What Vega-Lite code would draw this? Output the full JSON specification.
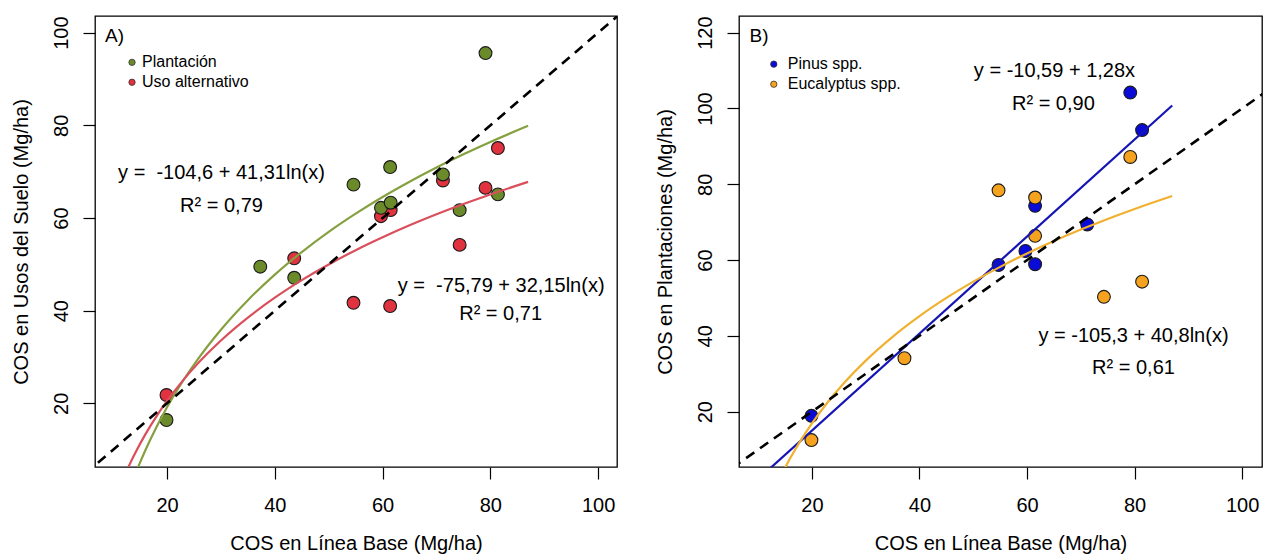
{
  "$schema": "https://vega.github.io/schema/vega-lite/v6.json",
  "padding": {"left": 10, "top": 15, "right": 0, "bottom": 0},
  "spacing": 36,
  "config": {
    "font": "Liberation Sans",
    "view": {"stroke": "black", "strokeWidth": 1.3},
    "axis": {"grid": false, "domain": false, "tickColor": "black", "tickWidth": 1.2, "tickSize": 12,
      "labelFont": "Liberation Sans", "labelFontSize": 20, "labelColor": "black", "labelPadding": 16,
      "titleFont": "Liberation Sans", "titleFontSize": 20, "titleFontWeight": "normal", "titleColor": "black",
      "minExtent": 50, "maxExtent": 50, "labelOverlap": false, "labelFlush": false},
    "axisX": {"titlePadding": 16},
    "axisY": {"labelAngle": -90, "labelAlign": "center", "labelBaseline": "alphabetic", "titlePadding": 14}
  },
  "resolve": {"scale": {"x": "independent", "y": "independent", "fill": "independent", "stroke": "independent"}},
  "datasets": {
    "ptsA": [
      {"x": 19.9, "y": 21.8, "grupo": "Uso alternativo"},
      {"x": 43.6, "y": 51.3, "grupo": "Uso alternativo"},
      {"x": 54.6, "y": 41.7, "grupo": "Uso alternativo"},
      {"x": 59.7, "y": 60.4, "grupo": "Uso alternativo"},
      {"x": 61.5, "y": 61.7, "grupo": "Uso alternativo"},
      {"x": 61.4, "y": 41.0, "grupo": "Uso alternativo"},
      {"x": 71.2, "y": 68.1, "grupo": "Uso alternativo"},
      {"x": 74.3, "y": 54.2, "grupo": "Uso alternativo"},
      {"x": 79.1, "y": 66.5, "grupo": "Uso alternativo"},
      {"x": 81.4, "y": 75.1, "grupo": "Uso alternativo"},
      {"x": 19.9, "y": 16.4, "grupo": "Plantación"},
      {"x": 37.3, "y": 49.5, "grupo": "Plantación"},
      {"x": 43.6, "y": 47.1, "grupo": "Plantación"},
      {"x": 54.6, "y": 67.2, "grupo": "Plantación"},
      {"x": 59.7, "y": 62.2, "grupo": "Plantación"},
      {"x": 61.5, "y": 63.3, "grupo": "Plantación"},
      {"x": 61.4, "y": 71.0, "grupo": "Plantación"},
      {"x": 71.2, "y": 69.4, "grupo": "Plantación"},
      {"x": 74.3, "y": 61.7, "grupo": "Plantación"},
      {"x": 79.1, "y": 95.6, "grupo": "Plantación"},
      {"x": 81.4, "y": 65.1, "grupo": "Plantación"}
    ],
    "curvesA": [
      {"x": 14, "y": 4.42, "grupo": "Plantación"},
      {"x": 15, "y": 7.27, "grupo": "Plantación"},
      {"x": 16, "y": 9.94, "grupo": "Plantación"},
      {"x": 18, "y": 14.80, "grupo": "Plantación"},
      {"x": 20, "y": 19.15, "grupo": "Plantación"},
      {"x": 23, "y": 24.93, "grupo": "Plantación"},
      {"x": 26, "y": 29.99, "grupo": "Plantación"},
      {"x": 30, "y": 35.90, "grupo": "Plantación"},
      {"x": 35, "y": 42.27, "grupo": "Plantación"},
      {"x": 40, "y": 47.79, "grupo": "Plantación"},
      {"x": 45, "y": 52.65, "grupo": "Plantación"},
      {"x": 50, "y": 57.01, "grupo": "Plantación"},
      {"x": 55, "y": 60.94, "grupo": "Plantación"},
      {"x": 60, "y": 64.54, "grupo": "Plantación"},
      {"x": 65, "y": 67.84, "grupo": "Plantación"},
      {"x": 70, "y": 70.91, "grupo": "Plantación"},
      {"x": 75, "y": 73.76, "grupo": "Plantación"},
      {"x": 80, "y": 76.42, "grupo": "Plantación"},
      {"x": 87, "y": 79.89, "grupo": "Plantación"},
      {"x": 12, "y": 4.10, "grupo": "Uso alternativo"},
      {"x": 13, "y": 6.67, "grupo": "Uso alternativo"},
      {"x": 14, "y": 9.06, "grupo": "Uso alternativo"},
      {"x": 16, "y": 13.35, "grupo": "Uso alternativo"},
      {"x": 18, "y": 17.14, "grupo": "Uso alternativo"},
      {"x": 20, "y": 20.52, "grupo": "Uso alternativo"},
      {"x": 23, "y": 25.02, "grupo": "Uso alternativo"},
      {"x": 26, "y": 28.96, "grupo": "Uso alternativo"},
      {"x": 30, "y": 33.56, "grupo": "Uso alternativo"},
      {"x": 35, "y": 38.51, "grupo": "Uso alternativo"},
      {"x": 40, "y": 42.81, "grupo": "Uso alternativo"},
      {"x": 45, "y": 46.59, "grupo": "Uso alternativo"},
      {"x": 50, "y": 49.98, "grupo": "Uso alternativo"},
      {"x": 55, "y": 53.05, "grupo": "Uso alternativo"},
      {"x": 60, "y": 55.84, "grupo": "Uso alternativo"},
      {"x": 65, "y": 58.42, "grupo": "Uso alternativo"},
      {"x": 70, "y": 60.80, "grupo": "Uso alternativo"},
      {"x": 75, "y": 63.02, "grupo": "Uso alternativo"},
      {"x": 80, "y": 65.09, "grupo": "Uso alternativo"},
      {"x": 87, "y": 67.79, "grupo": "Uso alternativo"}
    ],
    "legA": [
      {"x": 13.5, "y": 93.6, "grupo": "Plantación", "label": "Plantación"},
      {"x": 13.5, "y": 89.3, "grupo": "Uso alternativo", "label": "Uso alternativo"}
    ],
    "txtA": [
      {"x": 30.1, "y": 69.7, "label": "y = \u00a0-104,6 + 41,31ln(x)"},
      {"x": 30.1, "y": 62.6, "label": "R² = 0,79"},
      {"x": 82.0, "y": 45.3, "label": "y = \u00a0-75,79 + 32,15ln(x)"},
      {"x": 81.9, "y": 39.3, "label": "R² = 0,71"}
    ],
    "tagA": [{"x": 8.5, "y": 99.2, "label": "A)"}],
    "diag": [{"x": 0, "y": 0}, {"x": 130, "y": 130}],
    "ptsB": [
      {"x": 19.9, "y": 18.9, "grupo": "Pinus spp."},
      {"x": 54.7, "y": 58.7, "grupo": "Pinus spp."},
      {"x": 59.7, "y": 62.4, "grupo": "Pinus spp."},
      {"x": 61.5, "y": 74.3, "grupo": "Pinus spp."},
      {"x": 61.5, "y": 58.9, "grupo": "Pinus spp."},
      {"x": 71.2, "y": 69.4, "grupo": "Pinus spp."},
      {"x": 79.2, "y": 104.2, "grupo": "Pinus spp."},
      {"x": 81.4, "y": 94.3, "grupo": "Pinus spp."},
      {"x": 19.9, "y": 12.5, "grupo": "Eucalyptus spp."},
      {"x": 37.2, "y": 34.1, "grupo": "Eucalyptus spp."},
      {"x": 54.7, "y": 78.4, "grupo": "Eucalyptus spp."},
      {"x": 61.5, "y": 76.5, "grupo": "Eucalyptus spp."},
      {"x": 61.5, "y": 66.4, "grupo": "Eucalyptus spp."},
      {"x": 74.3, "y": 50.3, "grupo": "Eucalyptus spp."},
      {"x": 79.2, "y": 87.2, "grupo": "Eucalyptus spp."},
      {"x": 81.4, "y": 54.3, "grupo": "Eucalyptus spp."}
    ],
    "curvesB": [
      {"x": 10, "y": 2.21, "grupo": "Pinus spp."},
      {"x": 87, "y": 100.77, "grupo": "Pinus spp."},
      {"x": 14, "y": 2.37, "grupo": "Eucalyptus spp."},
      {"x": 15, "y": 5.19, "grupo": "Eucalyptus spp."},
      {"x": 16, "y": 7.82, "grupo": "Eucalyptus spp."},
      {"x": 18, "y": 12.63, "grupo": "Eucalyptus spp."},
      {"x": 20, "y": 16.93, "grupo": "Eucalyptus spp."},
      {"x": 23, "y": 22.63, "grupo": "Eucalyptus spp."},
      {"x": 26, "y": 27.63, "grupo": "Eucalyptus spp."},
      {"x": 30, "y": 33.47, "grupo": "Eucalyptus spp."},
      {"x": 35, "y": 39.76, "grupo": "Eucalyptus spp."},
      {"x": 40, "y": 45.21, "grupo": "Eucalyptus spp."},
      {"x": 45, "y": 50.01, "grupo": "Eucalyptus spp."},
      {"x": 50, "y": 54.31, "grupo": "Eucalyptus spp."},
      {"x": 55, "y": 58.20, "grupo": "Eucalyptus spp."},
      {"x": 60, "y": 61.75, "grupo": "Eucalyptus spp."},
      {"x": 65, "y": 65.02, "grupo": "Eucalyptus spp."},
      {"x": 70, "y": 68.04, "grupo": "Eucalyptus spp."},
      {"x": 75, "y": 70.85, "grupo": "Eucalyptus spp."},
      {"x": 80, "y": 73.49, "grupo": "Eucalyptus spp."},
      {"x": 87, "y": 76.91, "grupo": "Eucalyptus spp."}
    ],
    "legB": [
      {"x": 12.9, "y": 111.7, "grupo": "Pinus spp.", "label": "Pinus spp."},
      {"x": 12.9, "y": 106.4, "grupo": "Eucalyptus spp.", "label": "Eucalyptus spp."}
    ],
    "txtB": [
      {"x": 65.1, "y": 109.9, "label": "y = -10,59 + 1,28x"},
      {"x": 64.9, "y": 101.2, "label": "R² = 0,90"},
      {"x": 79.8, "y": 40.0, "label": "y = -105,3 + 40,8ln(x)"},
      {"x": 79.8, "y": 31.5, "label": "R² = 0,61"}
    ],
    "tagB": [{"x": 8.4, "y": 119.1, "label": "B)"}]
  },
  "hconcat": [
    {
      "width": 522,
      "height": 451,
      "encoding": {
        "x": {"field": "x", "type": "quantitative", "scale": {"domain": [6.63, 103.5], "nice": false, "zero": false},
          "axis": {"values": [20, 40, 60, 80, 100], "title": "COS en Línea Base (Mg/ha)"}},
        "y": {"field": "y", "type": "quantitative", "scale": {"domain": [6.26, 103.6], "nice": false, "zero": false},
          "axis": {"values": [20, 40, 60, 80, 100], "title": "COS en Usos del Suelo (Mg/ha)"}}
      },
      "layer": [
        {
          "data": {"name": "ptsA"},
          "mark": {"type": "circle", "size": 165, "opacity": 1, "stroke": "#1a1a1a", "strokeWidth": 1.1, "clip": true},
          "encoding": {"fill": {"field": "grupo", "type": "nominal", "scale": {"domain": ["Plantación", "Uso alternativo"], "range": ["#6b8a2a", "#e0323f"]}, "legend": null}}
        },
        {
          "data": {"name": "curvesA"},
          "mark": {"type": "line", "strokeWidth": 2.2, "clip": true, "interpolate": "monotone"},
          "encoding": {"stroke": {"field": "grupo", "type": "nominal", "scale": {"domain": ["Plantación", "Uso alternativo"], "range": ["#86a040", "#d9505c"]}, "legend": null}}
        },
        {
          "data": {"name": "diag"},
          "mark": {"type": "line", "color": "black", "strokeWidth": 2.6, "strokeDash": [10, 7], "clip": true},
          "encoding": {}
        },
        {
          "data": {"name": "legA"},
          "mark": {"type": "circle", "size": 40, "opacity": 1, "stroke": "#333333", "strokeWidth": 0.8},
          "encoding": {"fill": {"field": "grupo", "type": "nominal", "legend": null}}
        },
        {
          "data": {"name": "legA"},
          "mark": {"type": "text", "align": "left", "baseline": "middle", "fontSize": 16, "color": "black", "dx": 10},
          "encoding": {"text": {"field": "label"}}
        },
        {
          "data": {"name": "txtA"},
          "mark": {"type": "text", "align": "center", "baseline": "middle", "fontSize": 20, "color": "black"},
          "encoding": {"text": {"field": "label"}}
        },
        {
          "data": {"name": "tagA"},
          "mark": {"type": "text", "align": "left", "baseline": "middle", "fontSize": 19, "color": "black"},
          "encoding": {"text": {"field": "label"}}
        }
      ]
    },
    {
      "width": 523,
      "height": 451,
      "encoding": {
        "x": {"field": "x", "type": "quantitative", "scale": {"domain": [6.43, 103.7], "nice": false, "zero": false},
          "axis": {"values": [20, 40, 60, 80, 100], "title": "COS en Línea Base (Mg/ha)"}},
        "y": {"field": "y", "type": "quantitative", "scale": {"domain": [5.4, 124.4], "nice": false, "zero": false},
          "axis": {"values": [20, 40, 60, 80, 100, 120], "title": "COS en Plantaciones (Mg/ha)"}}
      },
      "layer": [
        {
          "data": {"name": "ptsB"},
          "mark": {"type": "circle", "size": 165, "opacity": 1, "stroke": "#1a1a1a", "strokeWidth": 1.1, "clip": true},
          "encoding": {"fill": {"field": "grupo", "type": "nominal", "scale": {"domain": ["Pinus spp.", "Eucalyptus spp."], "range": ["#0b0bd8", "#f5a21e"]}, "legend": null}}
        },
        {
          "data": {"name": "curvesB"},
          "mark": {"type": "line", "strokeWidth": 2.2, "clip": true, "interpolate": "monotone"},
          "encoding": {"stroke": {"field": "grupo", "type": "nominal", "scale": {"domain": ["Pinus spp.", "Eucalyptus spp."], "range": ["#1515b5", "#f0b030"]}, "legend": null}}
        },
        {
          "data": {"name": "diag"},
          "mark": {"type": "line", "color": "black", "strokeWidth": 2.6, "strokeDash": [10, 7], "clip": true},
          "encoding": {}
        },
        {
          "data": {"name": "legB"},
          "mark": {"type": "circle", "size": 40, "opacity": 1, "stroke": "#333333", "strokeWidth": 0.8},
          "encoding": {"fill": {"field": "grupo", "type": "nominal", "legend": null}}
        },
        {
          "data": {"name": "legB"},
          "mark": {"type": "text", "align": "left", "baseline": "middle", "fontSize": 16, "color": "black", "dx": 14},
          "encoding": {"text": {"field": "label"}}
        },
        {
          "data": {"name": "txtB"},
          "mark": {"type": "text", "align": "center", "baseline": "middle", "fontSize": 20, "color": "black"},
          "encoding": {"text": {"field": "label"}}
        },
        {
          "data": {"name": "tagB"},
          "mark": {"type": "text", "align": "left", "baseline": "middle", "fontSize": 19, "color": "black"},
          "encoding": {"text": {"field": "label"}}
        }
      ]
    }
  ]
}
